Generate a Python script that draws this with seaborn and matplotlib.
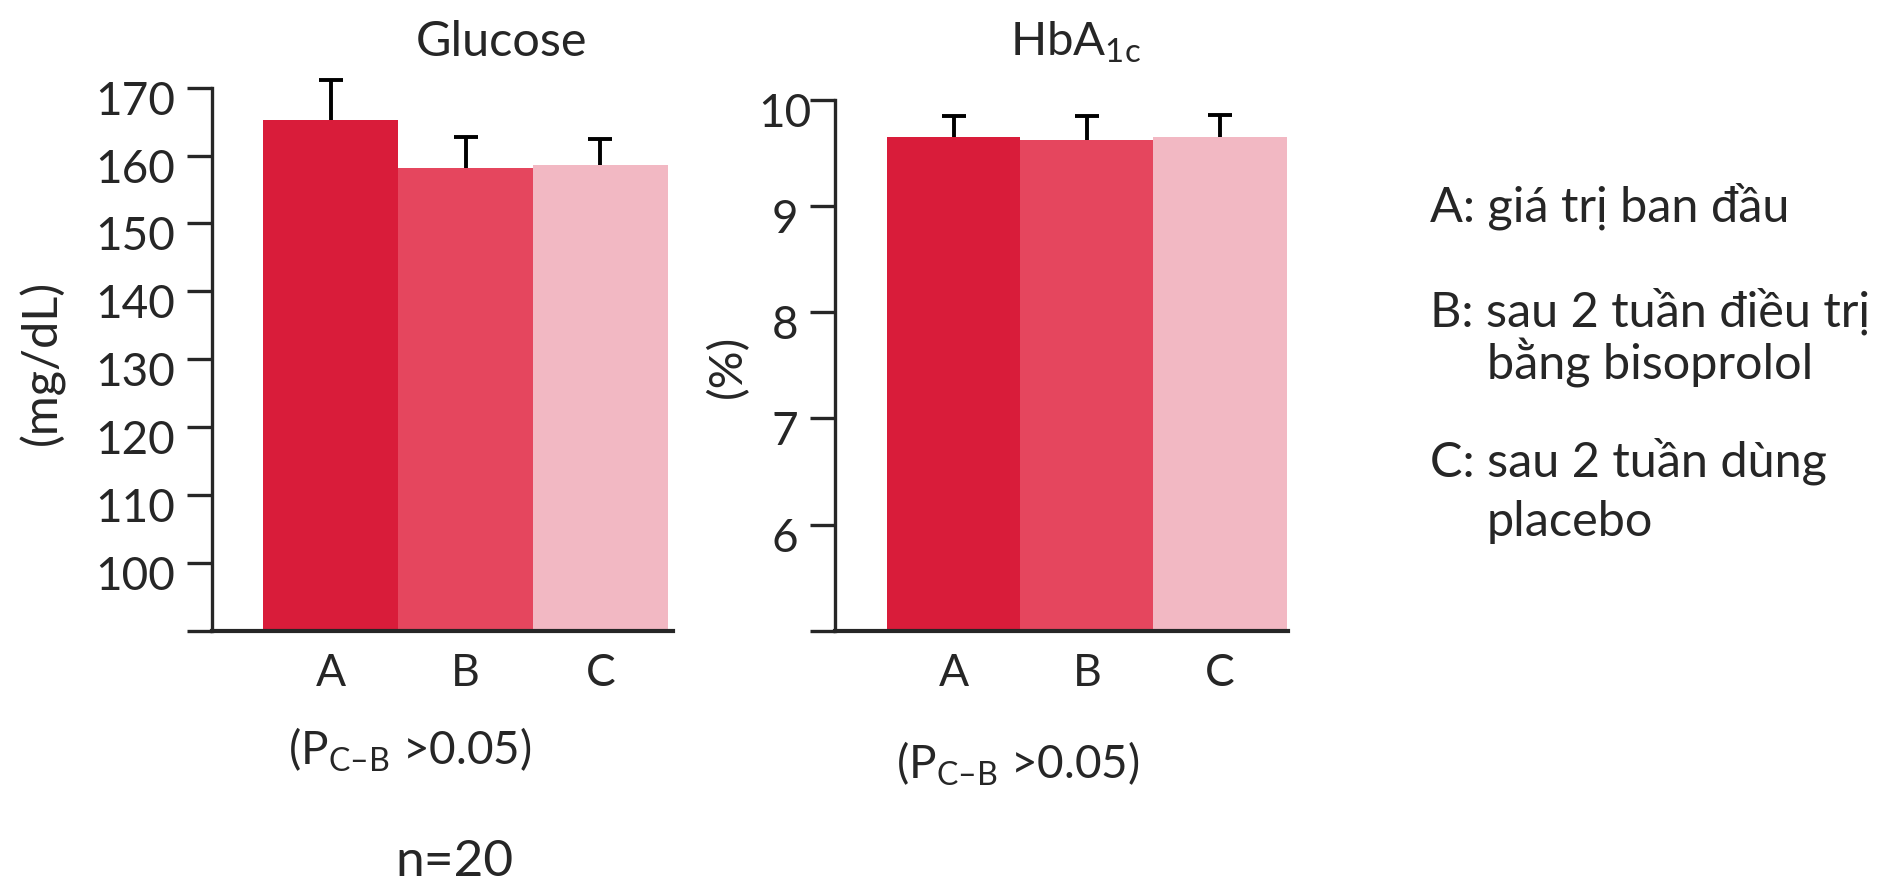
import pandas as pd
import matplotlib.pyplot as plt
import matplotlib.transforms as mtransforms
import seaborn as sns

groups = ['A', 'B', 'C']
colors = ['#d91c3a', '#e5465e', '#f2b8c3']

glucose_mean = [165.2, 158.2, 158.6]
glucose_err = [5.9, 4.5, 3.8]
glucose_ticks = [90, 100, 110, 120, 130, 140, 150, 160, 170]

hba1c_mean = [9.65, 9.63, 9.65]
hba1c_err = [0.20, 0.22, 0.21]
hba1c_ticks = [5, 6, 7, 8, 9, 10]

legend_lines = ['A: giá trị ban đầu', 'B: sau 2 tuần điều trị', 'bằng bisoprolol',
                'C: sau 2 tuần dùng', 'placebo']

sns.set_style('white')
plt.rcParams['font.family'] = ['Lato', 'DejaVu Sans']
plt.rcParams['mathtext.fontset'] = 'custom'
plt.rcParams['mathtext.rm'] = 'Lato'

fig = plt.figure(figsize=(18.93, 8.88), dpi=100)
ax1 = fig.add_axes([0.1122, 0.2898, 0.2435, 0.6115])
ax2 = fig.add_axes([0.4411, 0.2898, 0.2393, 0.5973])

df1 = pd.DataFrame({'group': groups, 'value': glucose_mean})
df2 = pd.DataFrame({'group': groups, 'value': hba1c_mean})

for ax, df, err, ticks, ylim, xlim in [
        (ax1, df1, glucose_err, glucose_ticks, (90, 170), (-0.876, 2.54)),
        (ax2, df2, hba1c_err, hba1c_ticks, (5, 10), (-0.89, 2.51))]:
    sns.barplot(data=df, x='group', y='value', hue='group', palette=colors,
                width=1.0, saturation=1, errorbar=None, legend=False,
                linewidth=0, ax=ax)
    # error bars go behind the bars, so only the upper half shows
    eb = ax.errorbar(range(len(groups)), df['value'], yerr=err,
                     fmt='none', ecolor='black', elinewidth=2.8, capsize=8.5,
                     capthick=2.8, zorder=0.5)
    for art in eb.get_children():
        art.set_clip_on(False)  # glucose A cap goes above 170
    ax.set_ylim(*ylim)
    ax.set_xlim(*xlim)
    ax.set_yticks(ticks)
    ax.set_yticklabels([''] + [str(t) for t in ticks[1:]])
    ax.set_xlabel('')
    ax.set_ylabel('')
    sns.despine(ax=ax)
    ax.spines['left'].set_linewidth(2.4)
    ax.spines['bottom'].set_linewidth(3)
    ax.tick_params(axis='y', length=18, width=2.4, labelsize=33, direction='out', left=True)
    ax.tick_params(axis='x', length=0, labelsize=32, pad=16)

ax1.tick_params(axis='y', pad=9)
ax2.tick_params(axis='y', pad=18)
for lab in ax2.get_yticklabels():
    lab.set_ha('center')

# tick labels sit a little below their ticks in the original
shift = mtransforms.ScaledTranslation(0, -10 / 100, fig.dpi_scale_trans)
for ax in (ax1, ax2):
    for lab in ax.get_yticklabels():
        lab.set_transform(lab.get_transform() + shift)

W, H = 1893, 888
def ftext(x, y, s, **kw):
    fig.text(x / W, 1 - y / H, s, **kw)

ftext(501, 42, 'Glucose', ha='center', va='center', fontsize=35)
ftext(1076, 42, r'HbA$_{\mathregular{1c}}$', ha='center', va='center', fontsize=34)
ftext(42, 362, '(mg/dL)', ha='center', va='center', rotation=90, fontsize=35)
ftext(728, 366, '(%)', ha='center', va='center', rotation=90, fontsize=34)
ftext(410, 750, '(P$_{\\mathregular{C\u2013B}}$ >0.05)', ha='center', va='center', fontsize=33)
ftext(1018, 764, '(P$_{\\mathregular{C\u2013B}}$ >0.05)', ha='center', va='center', fontsize=33)
ftext(454, 862, 'n=20', ha='center', va='center', fontsize=37)

legend_x = [1430, 1430, 1487, 1430, 1487]
legend_y = [221, 326, 379, 476, 536]
for x, y, s in zip(legend_x, legend_y, legend_lines):
    ftext(x, y, s, ha='left', va='baseline', fontsize=35)

fig.savefig('out.png', dpi=100)
